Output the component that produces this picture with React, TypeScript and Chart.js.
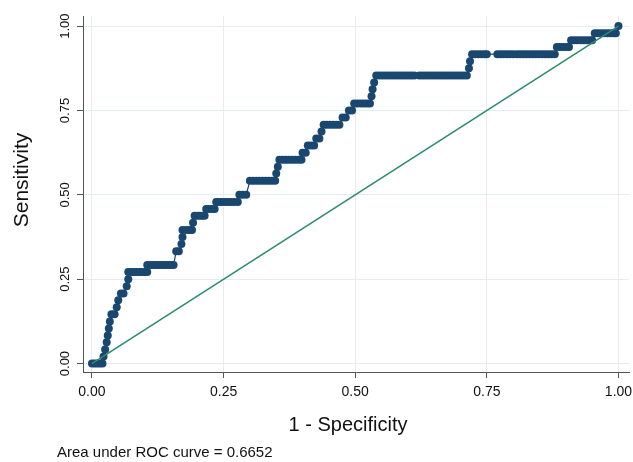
import React, { useEffect, useRef } from 'react';
import { Chart, registerables } from 'chart.js';

Chart.register(...registerables);

// ROC curve points (1 - specificity, sensitivity)
const fpr = [
  0, 0.005, 0.01, 0.015, 0.02,
  0.022, 0.025, 0.028, 0.03, 0.032, 0.034, 0.037, 0.043, 0.047, 0.05, 0.055, 0.06, 0.066, 0.069, 0.069,
  0.075, 0.08, 0.085, 0.09, 0.095, 0.1, 0.105,
  0.105, 0.11, 0.115, 0.12, 0.125, 0.13, 0.135, 0.14, 0.145, 0.15, 0.155,
  0.16, 0.165, 0.17, 0.172, 0.172, 0.179, 0.185, 0.19, 0.192,
  0.195, 0.2, 0.205, 0.21, 0.214,
  0.217, 0.222, 0.228, 0.233,
  0.236, 0.241, 0.246, 0.252, 0.258, 0.264, 0.27, 0.277,
  0.28, 0.286, 0.293,
  0.3, 0.306, 0.312, 0.318, 0.324, 0.33, 0.336, 0.342, 0.348,
  0.35, 0.353, 0.356, 0.362, 0.368, 0.374, 0.38, 0.386, 0.392, 0.398,
  0.4, 0.406, 0.41, 0.416, 0.422, 0.426, 0.432, 0.436,
  0.44, 0.446, 0.452, 0.458, 0.464, 0.47, 0.476, 0.482, 0.488, 0.494,
  0.498, 0.504, 0.51, 0.516, 0.522, 0.528, 0.531, 0.533, 0.536,
  0.54, 0.546, 0.552, 0.558, 0.564, 0.57, 0.576, 0.582, 0.588, 0.594, 0.6, 0.606, 0.612,
  0.622, 0.628, 0.634, 0.64, 0.646, 0.652, 0.658, 0.664, 0.67, 0.676, 0.682, 0.688, 0.694, 0.7, 0.706, 0.712,
  0.716, 0.718, 0.722, 0.728, 0.734, 0.74, 0.746, 0.75,
  0.77, 0.776, 0.782, 0.788, 0.794, 0.8,
  0.807, 0.813, 0.819, 0.825, 0.831, 0.837, 0.843, 0.849, 0.855, 0.861, 0.867, 0.873, 0.879,
  0.883, 0.889, 0.895, 0.901, 0.906,
  0.91, 0.916, 0.922, 0.928, 0.934, 0.94, 0.946, 0.95,
  0.955, 0.961, 0.967, 0.973, 0.979, 0.985, 0.991, 0.995,
  1.0,
];
const tpr = [
  0, 0, 0, 0, 0,
  0.021, 0.042, 0.063, 0.083, 0.104, 0.125, 0.146, 0.146, 0.167, 0.188, 0.208, 0.208, 0.229, 0.25, 0.271,
  0.271, 0.271, 0.271, 0.271, 0.271, 0.271, 0.271,
  0.292, 0.292, 0.292, 0.292, 0.292, 0.292, 0.292, 0.292, 0.292, 0.292, 0.292,
  0.333, 0.333, 0.354, 0.375, 0.396, 0.396, 0.396, 0.396, 0.417,
  0.438, 0.438, 0.438, 0.438, 0.438,
  0.458, 0.458, 0.458, 0.458,
  0.479, 0.479, 0.479, 0.479, 0.479, 0.479, 0.479, 0.479,
  0.5, 0.5, 0.5,
  0.542, 0.542, 0.542, 0.542, 0.542, 0.542, 0.542, 0.542, 0.542,
  0.563, 0.583, 0.604, 0.604, 0.604, 0.604, 0.604, 0.604, 0.604, 0.604,
  0.625, 0.625, 0.646, 0.646, 0.646, 0.667, 0.667, 0.688,
  0.708, 0.708, 0.708, 0.708, 0.708, 0.708, 0.729, 0.729, 0.75, 0.75,
  0.771, 0.771, 0.771, 0.771, 0.771, 0.771, 0.792, 0.813, 0.833,
  0.854, 0.854, 0.854, 0.854, 0.854, 0.854, 0.854, 0.854, 0.854, 0.854, 0.854, 0.854, 0.854,
  0.854, 0.854, 0.854, 0.854, 0.854, 0.854, 0.854, 0.854, 0.854, 0.854, 0.854, 0.854, 0.854, 0.854, 0.854, 0.854,
  0.875, 0.896, 0.917, 0.917, 0.917, 0.917, 0.917, 0.917,
  0.917, 0.917, 0.917, 0.917, 0.917, 0.917,
  0.917, 0.917, 0.917, 0.917, 0.917, 0.917, 0.917, 0.917, 0.917, 0.917, 0.917, 0.917, 0.917,
  0.938, 0.938, 0.938, 0.938, 0.938,
  0.958, 0.958, 0.958, 0.958, 0.958, 0.958, 0.958, 0.958,
  0.979, 0.979, 0.979, 0.979, 0.979, 0.979, 0.979, 0.979,
  1.0,
];

// Reference (chance) diagonal
const refX = [0, 1];
const refY = [0, 1];

const tickValues = [0, 0.25, 0.5, 0.75, 1];
const xTitle = '1 - Specificity';
const yTitle = 'Sensitivity';
const caption = 'Area under ROC curve = 0.6652';

const FONT = '"Liberation Sans", Arial, Helvetica, sans-serif';

export default function App() {
  const ref = useRef<HTMLCanvasElement>(null);

  useEffect(() => {
    document.body.style.margin = '0';
    const canvas = ref.current;
    if (!canvas) return;

    const textPlugin = {
      id: 'stataText',
      afterDraw(chart: any) {
        const c = chart.ctx as CanvasRenderingContext2D;
        c.save();
        c.fillStyle = '#111';
        c.textAlign = 'center';
        c.textBaseline = 'middle';
        c.font = `21px ${FONT}`;
        c.save();
        c.translate(22, 180);
        c.rotate(-Math.PI / 2);
        c.fillText(yTitle, 0, 0);
        c.restore();
        c.font = `20px ${FONT}`;
        c.fillText(xTitle, 348, 425);
        c.font = `15px ${FONT}`;
        c.textAlign = 'left';
        c.fillText(caption, 57, 453);
        c.restore();
      },
    };

    const setTicks = (s: any) => {
      s.ticks = tickValues.map((v) => ({ value: v }));
    };

    const chart = new Chart(canvas, {
      type: 'scatter',
      data: {
        datasets: [
          {
            label: 'Reference',
            data: refX.map((x, i) => ({ x, y: refY[i] })),
            showLine: true,
            borderColor: '#2f8b6c',
            backgroundColor: '#2f8b6c',
            borderWidth: 1.6,
            pointRadius: 0,
            order: 0,
          },
          {
            label: 'ROC',
            data: fpr.map((x, i) => ({ x, y: tpr[i] })),
            showLine: true,
            borderColor: '#1a476f',
            backgroundColor: '#1a476f',
            borderWidth: 1.2,
            pointRadius: 4,
            pointBorderWidth: 0,
            order: 1,
          },
        ],
      },
      options: {
        responsive: false,
        animation: false,
        devicePixelRatio: 1,
        layout: { padding: { top: 16, right: 2, left: 0, bottom: 0 } },
        plugins: {
          legend: { display: false },
          tooltip: { enabled: false },
        },
        scales: {
          x: {
            type: 'linear',
            min: -0.017,
            max: 1.02,
            afterBuildTicks: setTicks,
            afterFit: (s: any) => {
              s.height = 90;
              s.paddingLeft = 0;
              s.paddingRight = 0;
            },
            ticks: {
              autoSkip: false,
              padding: 6,
              color: '#111',
              font: { family: FONT, size: 14 },
              callback: (v: any) => Number(v).toFixed(2),
            },
            grid: {
              color: '#e4eef2',
              tickColor: '#555',
              tickLength: 6,
              lineWidth: 1,
            },
            border: { display: true, color: '#555', width: 1 },
          },
          y: {
            type: 'linear',
            min: -0.025,
            max: 1.03,
            afterBuildTicks: setTicks,
            afterFit: (s: any) => {
              s.width = 83;
              s.paddingTop = 0;
              s.paddingBottom = 0;
            },
            ticks: {
              autoSkip: false,
              padding: -1,
              minRotation: 90,
              maxRotation: 90,
              crossAlign: 'center',
              color: '#111',
              font: { family: FONT, size: 13 },
              callback: (v: any) => Number(v).toFixed(2),
            },
            grid: {
              color: '#e4eef2',
              tickColor: '#555',
              tickLength: 6,
              lineWidth: 1,
            },
            border: { display: true, color: '#555', width: 1 },
          },
        },
      },
      plugins: [textPlugin],
    });

    return () => chart.destroy();
  }, []);

  return <canvas ref={ref} width={633} height={462} style={{ display: 'block' }} />;
}
